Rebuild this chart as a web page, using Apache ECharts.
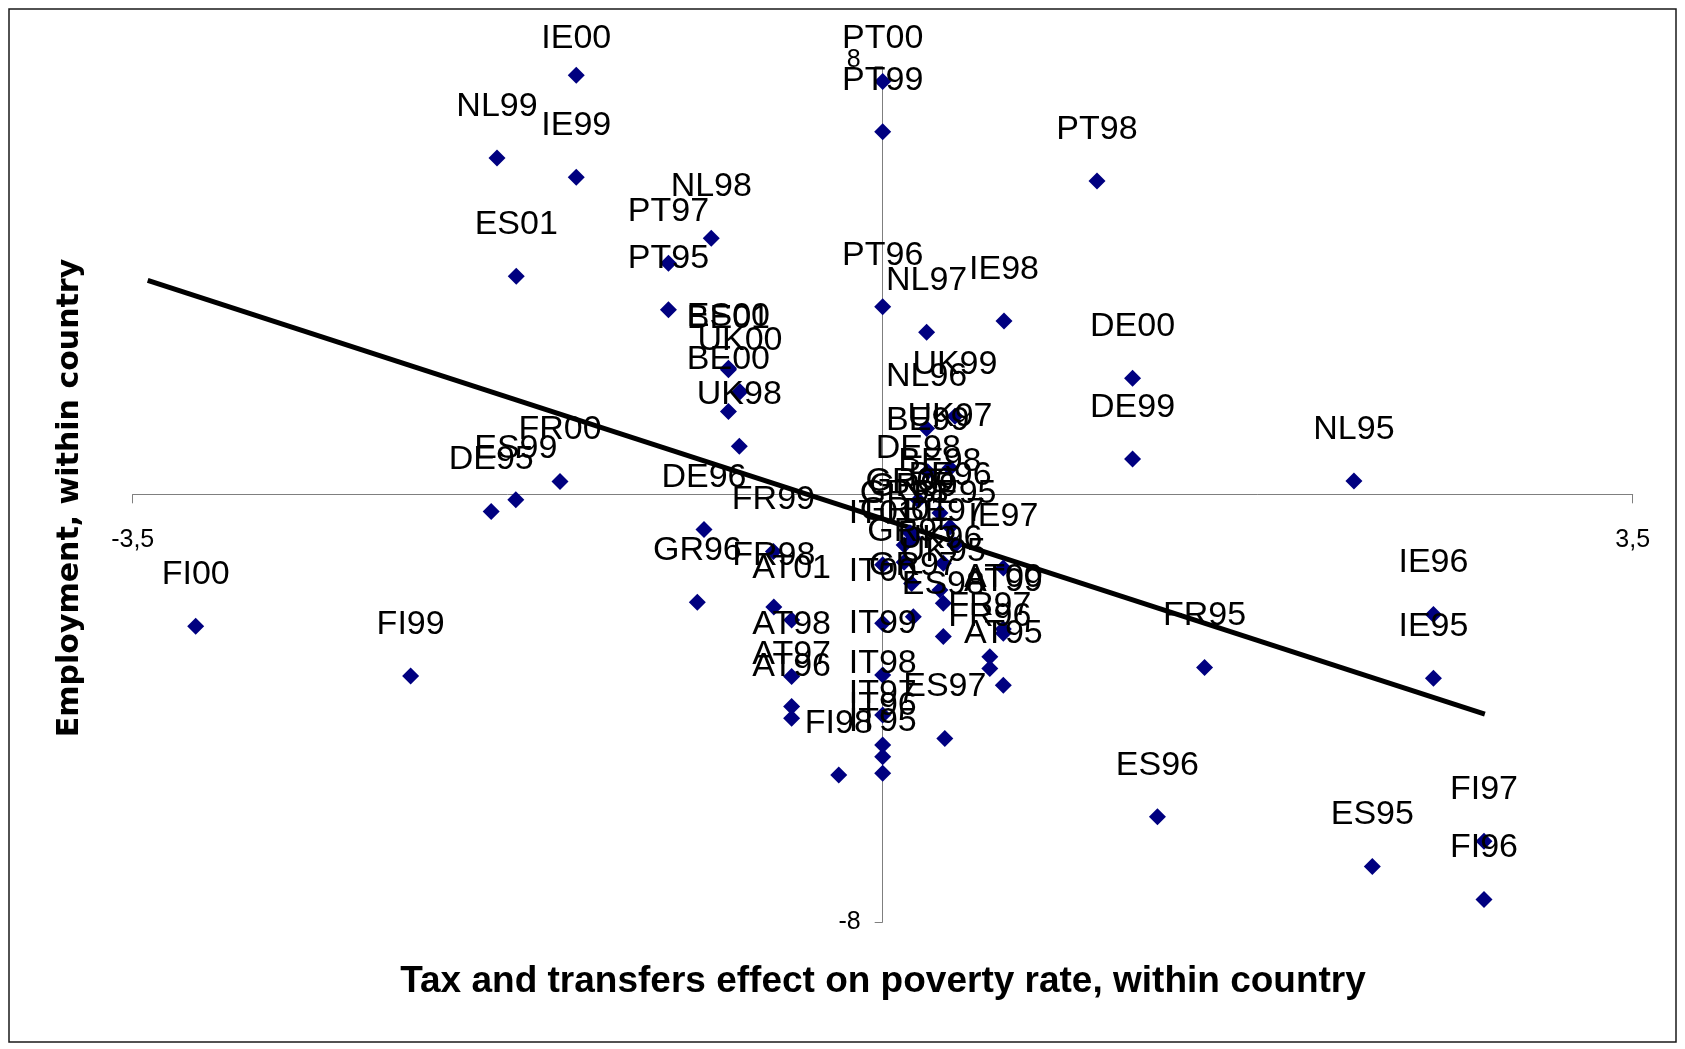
<!DOCTYPE html>
<html>
<head>
<meta charset="utf-8">
<title>Employment vs tax and transfers effect</title>
<script src="https://cdn.jsdelivr.net/npm/echarts@6/dist/echarts.min.js"></script>
<style>
  html, body { margin: 0; padding: 0; background: #ffffff; }
  #chart { width: 1685px; height: 1049px; }
</style>
</head>
<body>
<div id="chart"></div>
<script>
// Country-year observations (country code + two-digit year)
const pointLabels = [
  'IE00','PT00','PT99','NL99','IE99','PT98','NL98','PT97','ES01','PT95',
  'PT96','NL97','IE98','ES00','BE01','DE00','UK00','BE00','UK99','NL96',
  'UK98','DE99','UK97','BE99','NL95','FR00','ES99','DE98','DE95','BE98',
  'BE96','DE96','GR00','GR99','GR98','BE95','FR99','IT01','GR01','BE97',
  'IE97','GR95','UK96','GR96','UK95','FR98','IE96','GR97','AT01','IT00',
  'FI00','AT00','AT99','ES98','FR97','FR95','FR96','IT99','FI99','AT98',
  'IE95','AT95','AT97','IT98','AT96','ES97','IT97','IT96','IT95','FI98',
  'ES96','FI97','ES95','FI96'
];
// Tax and transfers effect on poverty rate, within country
const taxEffect = [
  -1.43, 0.00, 0.00, -1.80, -1.43, 1.00, -0.80, -1.00, -1.71, -1.00,
   0.00, 0.205, 0.566, -0.72, -0.72, 1.166, -0.666, -0.72, 0.337, 0.205,
  -0.669, 1.166, 0.314, 0.21, 2.199, -1.506, -1.712, 0.166, -1.827, 0.267,
   0.314, -0.834, 0.127, 0.143, 0.10, 0.337, -0.51, 0.00, 0.10, 0.283,
   0.563, 0.135, 0.267, -0.865, 0.283, -0.508, 2.57, 0.143, -0.425, 0.00,
  -3.206, 0.563, 0.563, 0.283, 0.50, 1.502, 0.50, 0.00, -2.203, -0.425,
   2.57, 0.563, -0.425, 0.00, -0.425, 0.29, 0.00, 0.00, 0.00, -0.205,
   1.282, 2.806, 2.285, 2.806
];
// Employment, within country
const employment = [
   7.84, 7.72, 6.78, 6.29, 5.93, 5.86, 4.79, 4.32, 4.08, 3.45,
   3.51, 3.03, 3.24, 2.36, 2.33, 2.17, 1.92, 1.55, 1.46, 1.23,
   0.90, 0.66, 0.49, 0.42, 0.25, 0.24, -0.10, -0.11, -0.32, -0.35,
  -0.61, -0.66, -0.72, -0.82, -0.95, -0.95, -1.07, -1.32, -1.27, -1.29,
  -1.38, -1.67, -1.79, -2.02, -2.04, -2.11, -2.25, -2.29, -2.35, -2.41,
  -2.47, -2.52, -2.60, -2.66, -3.04, -3.24, -3.26, -3.38, -3.40, -3.41,
  -3.44, -3.57, -3.97, -4.13, -4.19, -4.57, -4.69, -4.91, -5.22, -5.25,
  -6.03, -6.49, -6.96, -7.58
];
// Linear trend line end points
const trendX = [-3.43, 2.81];
const trendY = [4.00, -4.11];
// Axis extremes shown as tick labels
const xTicks = [-3.5, 3.5];
const yTicks = [-8, 8];

const xTitle = 'Tax and transfers effect on poverty rate, within country';
const yTitle = 'Employment, within country';

const trend = trendX.map((x, i) => [x, trendY[i]]);

const commaDecimal = v => String(v).replace('.', ',');
const axisGray = '#7f7f7f';
const tickFont = 'Liberation Sans, Arial, sans-serif';

const LABEL_SIZE = 34;
const SYMBOL_SIZE = 17;
const LABEL_DISTANCE = 26;   // gap between marker and its label
const LABEL_MIN_CENTRE = 39; // labels stay inside the chart frame

function buildPoints(toPixel) {
  return pointLabels.map((name, i) => {
    const item = { value: [taxEffect[i], employment[i]], name: name };
    if (toPixel) {
      const py = toPixel([taxEffect[i], employment[i]])[1];
      const centre = py - SYMBOL_SIZE / 2 - LABEL_DISTANCE - LABEL_SIZE / 2;
      if (centre < LABEL_MIN_CENTRE) {
        item.label = { distance: Math.max(0, LABEL_DISTANCE - (LABEL_MIN_CENTRE - centre)) };
      }
    }
    return item;
  });
}

const chart = echarts.init(document.getElementById('chart'), null, { renderer: 'canvas' });

chart.setOption({
  backgroundColor: '#ffffff',
  animation: false,
  grid: { left: 132.7, right: 52.3, top: 66.6, bottom: 127, containLabel: false },
  xAxis: {
    type: 'value',
    min: xTicks[0],
    max: xTicks[1],
    splitLine: { show: false },
    axisLine: { onZero: true, lineStyle: { color: axisGray, width: 1 } },
    axisTick: { show: true, customValues: xTicks, length: 9, lineStyle: { color: axisGray } },
    axisLabel: { show: false }
  },
  yAxis: {
    type: 'value',
    min: yTicks[0],
    max: yTicks[1],
    splitLine: { show: false },
    axisLine: { onZero: true, lineStyle: { color: axisGray, width: 1 } },
    axisTick: { show: true, customValues: yTicks, length: 8, lineStyle: { color: axisGray } },
    axisLabel: { show: false }
  },
  series: [
    {
      type: 'line',
      data: trend,
      symbol: 'none',
      lineStyle: { color: '#000000', width: 5 },
      z: 1,
      silent: true
    },
    {
      id: 'obs',
      type: 'scatter',
      data: buildPoints(null),
      symbol: 'diamond',
      symbolSize: SYMBOL_SIZE,
      itemStyle: { color: '#000080', opacity: 1 },
      z: 2,
      label: {
        show: true,
        formatter: p => p.name,
        position: 'top',
        distance: LABEL_DISTANCE,
        color: '#000000',
        fontSize: LABEL_SIZE,
        fontFamily: 'Liberation Sans, Arial, sans-serif'
      }
    }
  ],
  graphic: [
    {
      id: 'frame',
      type: 'rect',
      shape: { x: 9, y: 9, width: 1667, height: 1033 },
      style: { fill: 'none', stroke: '#1a1a1a', lineWidth: 1.5 },
      silent: true,
      z: 100
    },
    {
      id: 'xTitle',
      type: 'text',
      x: 883, y: 982,
      style: {
        text: xTitle, fill: '#000', fontSize: 37, fontWeight: 'bold',
        fontFamily: 'Liberation Sans, Arial, sans-serif',
        align: 'center', verticalAlign: 'middle'
      }
    },
    {
      id: 'yTitle',
      type: 'text',
      x: 70, y: 498,
      rotation: Math.PI / 2,
      style: {
        text: yTitle, fill: '#000', fontSize: 30, fontWeight: 'bold',
        fontFamily: 'DejaVu Sans, Verdana, sans-serif',
        align: 'center', verticalAlign: 'middle'
      }
    }
  ]
});

// Tick labels sit beside the axes that cross at the origin; top labels
// are kept inside the frame.
const toPixel = v => chart.convertToPixel({ gridIndex: 0 }, v);
const origin = toPixel([0, 0]);
const tickTexts = [];
xTicks.forEach((v, i) => {
  const p = toPixel([v, 0]);
  tickTexts.push({
    id: 'xt' + i, type: 'text', x: p[0], y: origin[1] + 46,
    style: { text: commaDecimal(v), fill: '#000', fontSize: 25, fontFamily: tickFont,
             align: 'center', verticalAlign: 'middle' }
  });
});
yTicks.forEach((v, i) => {
  const p = toPixel([0, v]);
  tickTexts.push({
    id: 'yt' + i, type: 'text', x: origin[0] - 22, y: p[1] - (v > 0 ? 6 : 0),
    style: { text: commaDecimal(v), fill: '#000', fontSize: 25, fontFamily: tickFont,
             align: 'right', verticalAlign: 'middle' }
  });
});

chart.setOption({
  series: [{}, { id: 'obs', data: buildPoints(toPixel) }],
  graphic: tickTexts
});
</script>
</body>
</html>
